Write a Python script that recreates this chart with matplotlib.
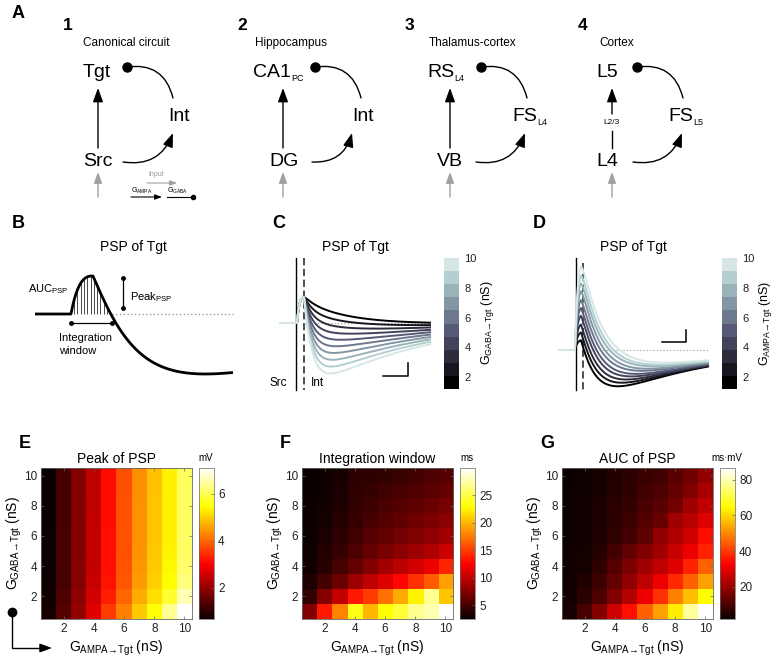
import numpy as np
import matplotlib
matplotlib.use("Agg")
import matplotlib.pyplot as plt
from matplotlib.colors import ListedColormap, Normalize
from matplotlib.cm import ScalarMappable
from matplotlib.patches import FancyArrowPatch

plt.rcParams["font.family"] = ["Liberation Sans", "DejaVu Sans"]
plt.rcParams["mathtext.fontset"] = "custom"
plt.rcParams["mathtext.rm"] = "Liberation Sans"
plt.rcParams["mathtext.it"] = "Liberation Sans:italic"
plt.rcParams["mathtext.bf"] = "Liberation Sans:bold"

W, H = 780, 664

# --- data ---------------------------------------------------------------------
# heatmaps: rows = G_GABA 1..10 (bottom -> top), cols = G_AMPA 1..10
peak_psp = np.array([
    [0.80, 1.40, 2.00, 2.75, 3.60, 4.25, 4.95, 5.50, 6.40, 7.10],
    [0.76, 1.32, 1.92, 2.60, 3.30, 4.00, 4.65, 5.15, 5.75, 6.60],
    [0.74, 1.28, 1.87, 2.50, 3.20, 3.85, 4.50, 5.00, 5.45, 6.25],
    [0.73, 1.27, 1.86, 2.46, 3.18, 3.82, 4.45, 4.95, 5.40, 6.15],
    [0.72, 1.26, 1.85, 2.45, 3.17, 3.80, 4.42, 4.92, 5.35, 6.10],
    [0.71, 1.26, 1.85, 2.44, 3.17, 3.80, 4.41, 4.91, 5.34, 6.10],
    [0.70, 1.25, 1.84, 2.44, 3.16, 3.79, 4.40, 4.90, 5.33, 6.09],
    [0.69, 1.25, 1.84, 2.43, 3.16, 3.79, 4.40, 4.90, 5.33, 6.08],
    [0.69, 1.24, 1.83, 2.43, 3.15, 3.78, 4.39, 4.89, 5.32, 6.08],
    [0.68, 1.24, 1.83, 2.42, 3.15, 3.78, 4.39, 4.89, 5.32, 6.07],
])
integ_window = np.array([
    [7.5, 13.5, 17.9, 23.5, 20.0, 23.0, 24.5, 26.8, 27.7, 29.9],
    [4.2, 7.5, 10.0, 13.5, 15.0, 17.1, 19.5, 22.5, 27.0, 20.5],
    [3.3, 4.9, 6.5, 8.5, 9.8, 11.2, 12.8, 14.5, 16.3, 19.0],
    [2.9, 3.7, 5.0, 6.2, 7.5, 8.8, 9.7, 10.7, 11.8, 14.0],
    [2.8, 3.5, 4.3, 5.3, 6.2, 7.0, 7.8, 8.5, 9.2, 10.5],
    [2.7, 3.2, 3.9, 4.8, 5.5, 6.2, 6.8, 7.4, 8.0, 8.8],
    [2.6, 3.0, 3.6, 4.4, 5.0, 5.6, 6.1, 6.7, 7.2, 7.8],
    [2.6, 2.9, 3.4, 4.2, 4.6, 5.1, 5.5, 6.0, 6.5, 7.0],
    [2.5, 2.8, 3.2, 4.0, 4.3, 4.7, 5.0, 5.4, 5.8, 6.3],
    [2.5, 2.8, 3.1, 3.8, 4.0, 4.2, 4.5, 4.8, 5.2, 5.5],
])
auc_psp = np.array([
    [3.9, 9.7, 17.5, 27.0, 35.0, 45.0, 53.0, 63.0, 78.0, 86.5],
    [3.2, 6.0, 10.5, 17.0, 23.5, 31.0, 39.0, 49.0, 57.0, 65.0],
    [3.0, 5.0, 8.5, 13.5, 19.0, 25.0, 31.0, 38.0, 45.0, 53.0],
    [2.8, 3.9, 6.8, 11.5, 16.5, 21.0, 25.0, 29.0, 37.0, 45.0],
    [2.7, 3.4, 5.5, 9.5, 13.5, 17.0, 21.0, 26.0, 31.0, 37.0],
    [2.6, 3.2, 4.6, 7.2, 9.5, 13.0, 19.0, 23.0, 27.0, 34.5],
    [2.6, 3.1, 4.3, 6.5, 8.5, 11.5, 14.0, 21.0, 24.0, 29.0],
    [2.5, 3.0, 4.0, 6.0, 7.5, 10.0, 12.0, 15.5, 21.0, 25.0],
    [2.5, 2.9, 3.8, 5.5, 6.8, 9.0, 10.5, 13.5, 17.0, 22.0],
    [2.0, 2.8, 3.5, 5.0, 6.0, 8.0, 9.0, 12.0, 15.0, 19.0],
])
heat_ticks = [2, 4, 6, 8, 10]

# PSP traces (amplitudes, arbitrary units)
b_exc_amp, b_inh_amp = 38.0, 64.0
c_exc_amp = 26.0
c_inh_amp = [4, 11, 18, 25, 32, 39, 46, 53, 60, 67]          # G_GABA 1..10
d_exc_amp = [10, 18, 26, 35, 43, 51, 60, 68, 76, 85]         # G_AMPA 1..10
d_inh_amp = [40, 39, 38, 37, 36, 34, 33, 31, 30, 28]

# circuits
circuit_num = ["1", "2", "3", "4"]
circuit_title = ["Canonical circuit", "Hippocampus", "Thalamus-cortex", "Cortex"]
tgt_label = [("Tgt", ""), ("CA1", "PC"), ("RS", "L4"), ("L5", "")]
int_label = [("Int", ""), ("Int", ""), ("FS", "L4"), ("FS", "L5")]
src_label = ["Src", "DG", "VB", "L4"]

# layout (pixels, y down)
arrow_x = [98, 283, 450, 612]
num_x = [63, 237, 405, 578]
title_x = [83, 255, 429, 599]
tgt_x = [83, 253, 427, 596]
src_x = [83, 269, 437, 596]
int_x = [168, 352, 512, 668]
dot_x = [127, 315, 481, 637]
src_arrow_x = [(123, 173), (312, 352), (476, 525), (633, 682)]
heat_x = [41, 302, 562]

GABA_LAB = r"G$_{\mathrm{GABA}\!{\rightarrow}\!\mathrm{Tgt}}$ (nS)"
AMPA_LAB = r"G$_{\mathrm{AMPA}\!{\rightarrow}\!\mathrm{Tgt}}$ (nS)"


def rect(x0, y0, x1, y1):
    return [x0 / W, 1 - y1 / H, (x1 - x0) / W, (y1 - y0) / H]


def dexp(t, onset, tau_r, tau_d):
    """difference of exponentials, normalized to unit peak"""
    s = np.clip(t - onset, 0, None)
    tp = np.log(tau_d / tau_r) * tau_r * tau_d / (tau_d - tau_r)
    return (np.exp(-s / tau_d) - np.exp(-s / tau_r)) / (np.exp(-tp / tau_d) - np.exp(-tp / tau_r))


fig = plt.figure(figsize=(W / 100, H / 100), dpi=100)
ov = fig.add_axes([0, 0, 1, 1])
ov.set_xlim(0, W)
ov.set_ylim(H, 0)
ov.axis("off")
renderer = fig.canvas.get_renderer()


def arrow(p0, p1, rad=0.0, color="k", lw=1.0, head=True, ms=14):
    style = "-|>,head_length=0.6,head_width=0.22" if head else "-"
    ov.add_patch(FancyArrowPatch(p0, p1, connectionstyle=f"arc3,rad={rad}", arrowstyle=style,
                                 mutation_scale=ms, color=color, lw=lw, shrinkA=0, shrinkB=0))


def label_sub(x, y, main, sub, size=14, subsize=6.5):
    t = ov.text(x, y, main, fontsize=size, va="baseline", ha="left")
    if sub:
        bb = t.get_window_extent(renderer)
        xe = ov.transData.inverted().transform((bb.x1, bb.y0))[0]
        ov.text(xe + 0.5, y + 4, sub, fontsize=subsize, va="baseline", ha="left")


# --- panel A --------------------------------------------------------------------
ov.text(12, 13, "A", fontsize=13, fontweight="bold", va="center")
for i in range(4):
    ax_ = arrow_x[i]
    ov.text(num_x[i], 25, circuit_num[i], fontsize=12.5, fontweight="bold", va="center")
    ov.text(title_x[i], 43, circuit_title[i], fontsize=8.5, va="center")
    label_sub(tgt_x[i], 77, *tgt_label[i])
    label_sub(int_x[i], 121, *int_label[i])
    label_sub(src_x[i], 166, src_label[i], "")
    if i == 3:
        ov.plot([ax_, ax_], [148, 131], color="k", lw=1.0)
        ov.text(ax_, 123, "L2/3", fontsize=6, ha="center", va="center")
        arrow((ax_, 114), (ax_, 88))
    else:
        arrow((ax_, 148), (ax_, 88))
    ov.plot(dot_x[i], 67, "o", color="k", ms=6.5)
    arrow((dot_x[i], 67), (dot_x[i] + 46, 98), rad=-0.45, head=False)
    arrow((src_arrow_x[i][0], 162), (src_arrow_x[i][1], 133), rad=0.4)
    arrow((ax_, 197), (ax_, 172), color="#a0a0a0", ms=11)

# legend of circuit 1
ov.text(148, 176, "Input", fontsize=5, color="#999999", va="baseline")
arrow((147, 183), (177, 183), color="#a0a0a0", lw=0.8, ms=7)
ov.text(131, 193, r"G$_{\mathrm{AMPA}}$", fontsize=5, va="baseline")
arrow((131, 197), (162, 197), lw=0.8, ms=7)
ov.text(167, 193, r"G$_{\mathrm{GABA}}$", fontsize=5, va="baseline")
ov.plot([167, 193], [197, 197], color="k", lw=0.8)
ov.plot(193, 197, "o", color="k", ms=3)

# --- panel B --------------------------------------------------------------------
ov.text(12, 223, "B", fontsize=13, fontweight="bold", va="center")
ov.text(133, 247, "PSP of Tgt", fontsize=10, ha="center", va="center")
axb = fig.add_axes(rect(20, 255, 250, 400))
axb.set_xlim(20, 250)
axb.set_ylim(314 - 400, 314 - 255)
axb.axis("off")
tb = np.linspace(35, 233, 800)
vb = b_exc_amp * dexp(tb, 71, 12, 40) - b_inh_amp * dexp(tb, 93, 40, 300)
axb.plot([112, 233], [0, 0], ls=(0, (1, 2)), color="0.55", lw=0.9)
axb.plot(tb, vb, color="k", lw=2.0, solid_capstyle="butt")
th = np.arange(74, 111, 3.3)
vh = b_exc_amp * dexp(th, 71, 12, 40) - b_inh_amp * dexp(th, 93, 40, 300)
axb.vlines(th, 0, np.clip(vh, 0, None), color="k", lw=0.5)
axb.plot([123, 123], [6, 36], "k-", lw=0.9, marker="o", ms=2.5)
axb.plot([71, 112], [-9, -9], "k-", lw=0.9, marker="o", ms=2.5)
ov.text(28, 292, r"AUC$_{\mathrm{PSP}}$", fontsize=8, va="baseline")
ov.text(130, 300, r"Peak$_{\mathrm{PSP}}$", fontsize=8, va="baseline")
ov.text(59, 341, "Integration", fontsize=8, va="baseline")
ov.text(59, 354, "window", fontsize=8, va="baseline")

# --- panels C and D ----------------------------------------------------------
trace_colors = plt.cm.bone(np.linspace(0, 0.88, 10))
trace_cmap = ListedColormap(trace_colors)

ov.text(272, 223, "C", fontsize=13, fontweight="bold", va="center")
ov.text(355, 247, "PSP of Tgt", fontsize=10, ha="center", va="center")
axc = fig.add_axes(rect(270, 250, 440, 395))
axc.set_xlim(270, 440)
axc.set_ylim(323 - 395, 323 - 250)
axc.axis("off")
tc = np.linspace(280, 430, 600)
axc.plot([296, 296], [65, -67], color="k", lw=1.0)
axc.plot([304, 304], [65, -67], color="0.25", lw=1.3, ls=(0, (4, 2)))
axc.plot([304, 430], [0, 0], ls=(0, (1, 2)), color="0.6", lw=0.8)
for k in range(10):
    vc = c_exc_amp * dexp(tc, 297, 2.5, 45) - c_inh_amp[k] * dexp(tc, 304, 8, 90)
    axc.plot(tc, vc, color=trace_colors[k], lw=1.4)
axc.plot([383, 408, 408], [-53, -53, -40], color="k", lw=1.1)
ov.text(287, 383, "Src", fontsize=8.5, ha="right", va="center")
ov.text(311, 383, "Int", fontsize=8.5, ha="left", va="center")

ov.text(533, 223, "D", fontsize=13, fontweight="bold", va="center")
ov.text(633, 247, "PSP of Tgt", fontsize=10, ha="center", va="center")
axd = fig.add_axes(rect(550, 250, 720, 395))
axd.set_xlim(550, 720)
axd.set_ylim(350 - 395, 350 - 250)
axd.axis("off")
td = np.linspace(559, 708, 600)
axd.plot([576, 576], [92, -40], color="k", lw=1.0)
axd.plot([583, 583], [87, -40], color="0.25", lw=1.3, ls=(0, (4, 2)))
axd.plot([583, 708], [0, 0], ls=(0, (1, 2)), color="0.6", lw=0.8)
for k in range(10):
    vd = d_exc_amp[k] * dexp(td, 575, 3, 30) - d_inh_amp[k] * dexp(td, 581, 15, 90)
    axd.plot(td, vd, color=trace_colors[k], lw=1.4)
axd.plot([662, 686, 686], [8, 8, 20], color="k", lw=1.1)

sm = ScalarMappable(norm=Normalize(1.2, 10), cmap=trace_cmap)
for cx, lab, lx in [(444, GABA_LAB, 488), (722, AMPA_LAB, 766)]:
    cax = fig.add_axes(rect(cx, 258, cx + 15, 389))
    cb = fig.colorbar(sm, cax=cax, ticks=[2, 4, 6, 8, 10])
    cb.outline.set_visible(False)
    cax.tick_params(length=0, labelsize=8, pad=4, labelcolor="#222222")
    ov.text(lx, 323, lab, fontsize=9, rotation=90, ha="center", va="center")

# --- panels E, F, G -----------------------------------------------------------
heat_specs = [
    (peak_psp, "Peak of PSP", "mV", [2, 4, 6], "E"),
    (integ_window, "Integration window", "ms", [5, 10, 15, 20, 25], "F"),
    (auc_psp, "AUC of PSP", "ms·mV", [20, 40, 60, 80], "G"),
]
for (data, title, unit, cticks, letter), x0 in zip(heat_specs, heat_x):
    ax = fig.add_axes(rect(x0, 468, x0 + 151, 619))
    im = ax.imshow(data, cmap="hot", origin="lower", aspect="auto", interpolation="nearest",
                   extent=(0.5, 10.5, 0.5, 10.5))
    ax.set_xticks(heat_ticks)
    ax.set_yticks(heat_ticks)
    ax.tick_params(direction="in", top=True, right=True, length=2, width=0.5, color="0.4",
                   labelsize=8.5, labelcolor="#222222", pad=3)
    for s in ax.spines.values():
        s.set_linewidth(0.6)
        s.set_color("0.4")
    ax.set_title(title, fontsize=10, pad=3.5)
    cax = fig.add_axes(rect(x0 + 158, 468, x0 + 173, 619))
    cb = fig.colorbar(im, cax=cax, ticks=cticks)
    cb.outline.set_linewidth(0.5)
    cb.outline.set_edgecolor("0.4")
    cax.tick_params(direction="in", length=2, width=0.5, color="0.4", labelsize=8.5,
                    labelcolor="#222222", pad=3)
    ov.text(x0 + 165, 458, unit, fontsize=7, ha="center", va="center")
    ov.text(x0 - 22, 444, letter, fontsize=13, fontweight="bold", va="center")
    ov.text(x0 + 75, 648, AMPA_LAB, fontsize=10, ha="center", va="center")
    ov.text(x0 - 27, 543, GABA_LAB, fontsize=10, rotation=90, ha="center", va="center")

# corner glyph under E
ov.plot(12, 612, "o", color="k", ms=6)
ov.plot([12, 12, 42], [615, 648, 648], color="k", lw=1.0)
arrow((40, 648), (52, 648), ms=12)

fig.savefig("out.png", dpi=100)
